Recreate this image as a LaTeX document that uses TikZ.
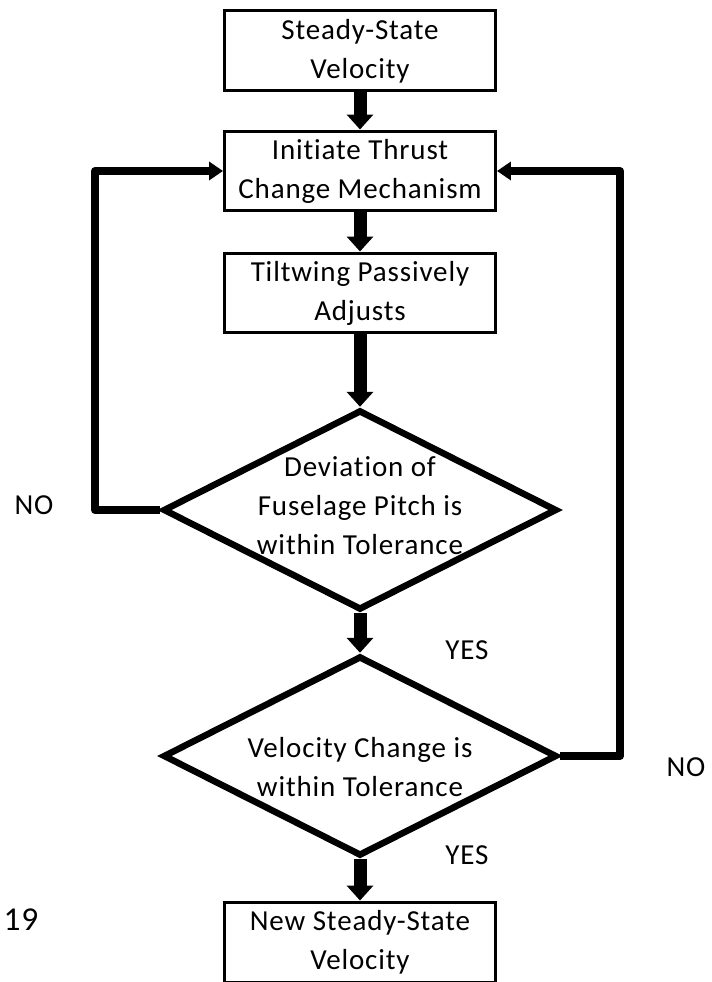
\documentclass[tikz,border=0pt]{standalone}
\usepackage{fontspec}
\setmainfont{Carlito}[LetterSpace=3, Ligatures={NoCommon}]
\usetikzlibrary{shapes.geometric, arrows.meta}
\usetikzlibrary{positioning,calc}

\tikzset{
    every node/.style={font=\fontsize{16.5}{22.2}\selectfont, align=center},
    stepbox/.style={draw, line width=0.06cm, minimum width=5.42cm, minimum height=1.6cm, inner sep=2pt},
    decision/.style={draw, diamond, line width=0.13cm, minimum width=7.88cm, minimum height=4cm, inner sep=0pt},
    thickarrow/.style={line width=0.26cm, -{Triangle[width=0.52cm,length=0.3cm]}},
    loopline/.style={line width=0.16cm, line join=round, -{Triangle[width=0.36cm,length=0.28cm]}}
}

\begin{document}
\begin{tikzpicture}[x=0.02cm, y=-0.02cm]
        \useasboundingbox (0,0) rectangle (711,982);
        \def\midx{360}
        \coordinate (leftx) at (95,0);
        \coordinate (rightx) at (620,0);
        % boxes and decisions
        \node [stepbox] (steady) at (\midx,51) {Steady-State\\Velocity};
        \node [stepbox] (thrust) at (\midx,171) {Initiate Thrust\\Change Mechanism};
        \node [stepbox] (tilt) at (\midx,293) {Tiltwing Passively\\Adjusts};
        \node [decision] (dev) at (\midx,510) {};
        \node (devtext) at (\midx,506) {Deviation of\\Fuselage Pitch is\\within Tolerance};
        \node [decision] (vel) at (\midx,756) {};
        \node (veltext) at (\midx,767) {Velocity Change is\\within Tolerance};
        \node [stepbox] (newsteady) at (\midx,942) {New Steady-State\\Velocity};
        % main flow
        \draw [thickarrow] (steady.south) -- (thrust.north);
        \draw [thickarrow] (thrust.south) -- (tilt.north);
        \draw [thickarrow] (tilt.south) -- (dev.north);
        \draw [thickarrow] (dev.south) -- (vel.north);
        \draw [thickarrow] (vel.south) -- (newsteady.north);
        % loops back
        \draw [loopline] (dev.west) -- (dev.west -| leftx) |- (thrust.west);
        \draw [loopline] (vel.east) -- (vel.east -| rightx) |- (thrust.east);
        \node (noleft) at (34,505) {NO};
        \node (yesdev) at (467,650) {YES};
        \node (noright) at (686,767) {NO};
        \node (yesvel) at (467,855) {YES};
        \node [font=\fontsize{19}{23}\selectfont] (fignum) at (21,920) {19};
    \end{tikzpicture}
\end{document}
